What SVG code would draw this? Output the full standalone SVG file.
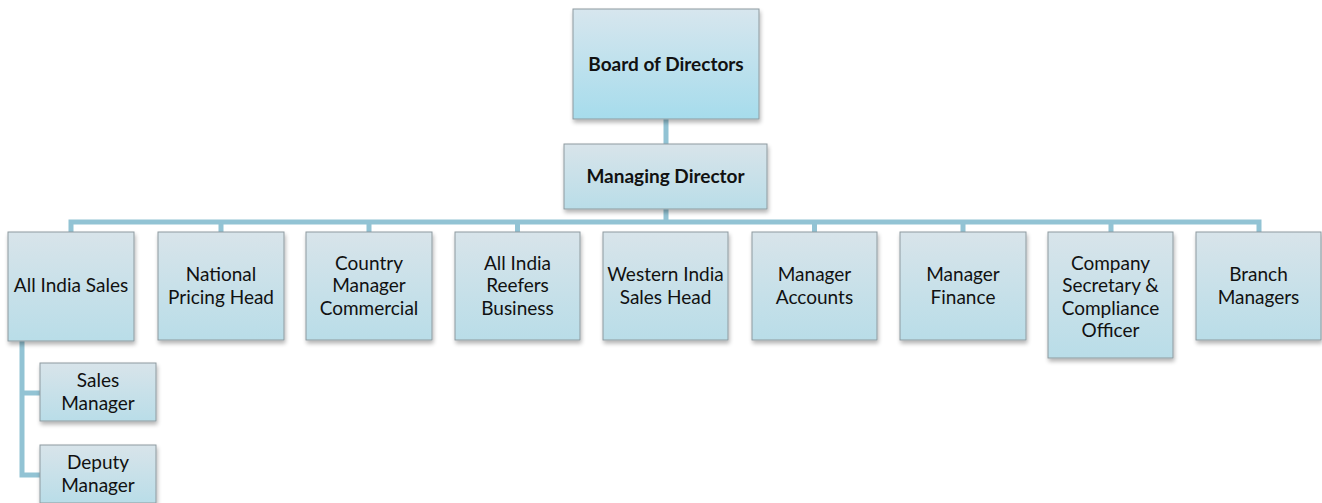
<svg xmlns="http://www.w3.org/2000/svg" width="1322" height="503" viewBox="0 0 1322 503">
<defs>
<linearGradient id="g" x1="0" y1="0" x2="0" y2="1">
<stop offset="0" stop-color="#d8e4ea"/>
<stop offset="1" stop-color="#b9dde8"/>
</linearGradient>
<linearGradient id="g2" x1="0" y1="0" x2="0" y2="1">
<stop offset="0" stop-color="#d7e6ee"/>
<stop offset="1" stop-color="#a6dcec"/>
</linearGradient>
<filter id="sh" x="-10%" y="-10%" width="125%" height="130%">
<feGaussianBlur in="SourceAlpha" stdDeviation="2"/>
<feOffset dx="1" dy="3" result="b"/>
<feComponentTransfer><feFuncA type="linear" slope="0.3"/></feComponentTransfer>
<feMerge><feMergeNode/><feMergeNode in="SourceGraphic"/></feMerge>
</filter>
</defs>
<style>
.box{fill:url(#g);stroke:#8e9a9f;stroke-width:1;filter:url(#sh)}
.top{fill:url(#g2)}
.c{fill:none;stroke:#92c3d4;stroke-width:5}
text{font-family:Lato,"Liberation Sans",sans-serif;font-size:19px;fill:#111;text-anchor:middle}
.b{font-weight:bold}
</style>
<g id="connectors">
<path class="c" d="M666 119V144M666 209V222M71 232V222H1259V232M221 222V232M369 222V232M517.5 222V232M814.5 222V232M963 222V232M1111 222V232M22 341V475H40M22 393H40"/>
</g>
<g id="board"><rect class="box top" x="573" y="9" width="186" height="110"/><text class="b" x="666" y="71">Board of Directors</text></g>
<g id="md"><rect class="box" x="564" y="144" width="203" height="65"/><text class="b" x="665.5" y="183">Managing Director</text></g>
<g id="n1"><rect class="box" x="8" y="232" width="126" height="109"/><text x="71" y="292">All India Sales</text></g>
<g id="n2"><rect class="box" x="158" y="232" width="126" height="108"/><text x="221" y="281">National</text><text x="221" y="304">Pricing Head</text></g>
<g id="n3"><rect class="box" x="306" y="232" width="126" height="108"/><text x="369" y="270">Country</text><text x="369" y="292">Manager</text><text x="369" y="315">Commercial</text></g>
<g id="n4"><rect class="box" x="455" y="232" width="125" height="108"/><text x="517.5" y="270">All India</text><text x="517.5" y="292">Reefers</text><text x="517.5" y="315">Business</text></g>
<g id="n5"><rect class="box" x="603" y="232" width="125" height="108"/><text x="665.5" y="281">Western India</text><text x="665.5" y="304">Sales Head</text></g>
<g id="n6"><rect class="box" x="752" y="232" width="125" height="108"/><text x="814.5" y="281">Manager</text><text x="814.5" y="304">Accounts</text></g>
<g id="n7"><rect class="box" x="900" y="232" width="126" height="108"/><text x="963" y="281">Manager</text><text x="963" y="304">Finance</text></g>
<g id="n8"><rect class="box" x="1048" y="232" width="125" height="126"/><text x="1110.5" y="270">Company</text><text x="1110.5" y="292">Secretary &amp;</text><text x="1110.5" y="315">Compliance</text><text x="1110.5" y="337">Officer</text></g>
<g id="n9"><rect class="box" x="1196" y="232" width="125" height="108"/><text x="1258.5" y="281">Branch</text><text x="1258.5" y="304">Managers</text></g>
<g id="sales"><rect class="box" x="40" y="363" width="116" height="58"/><text x="98" y="387">Sales</text><text x="98" y="410">Manager</text></g>
<g id="deputy"><rect class="box" x="40" y="445" width="116" height="58"/><text x="98" y="469">Deputy</text><text x="98" y="492">Manager</text></g>
</svg>
